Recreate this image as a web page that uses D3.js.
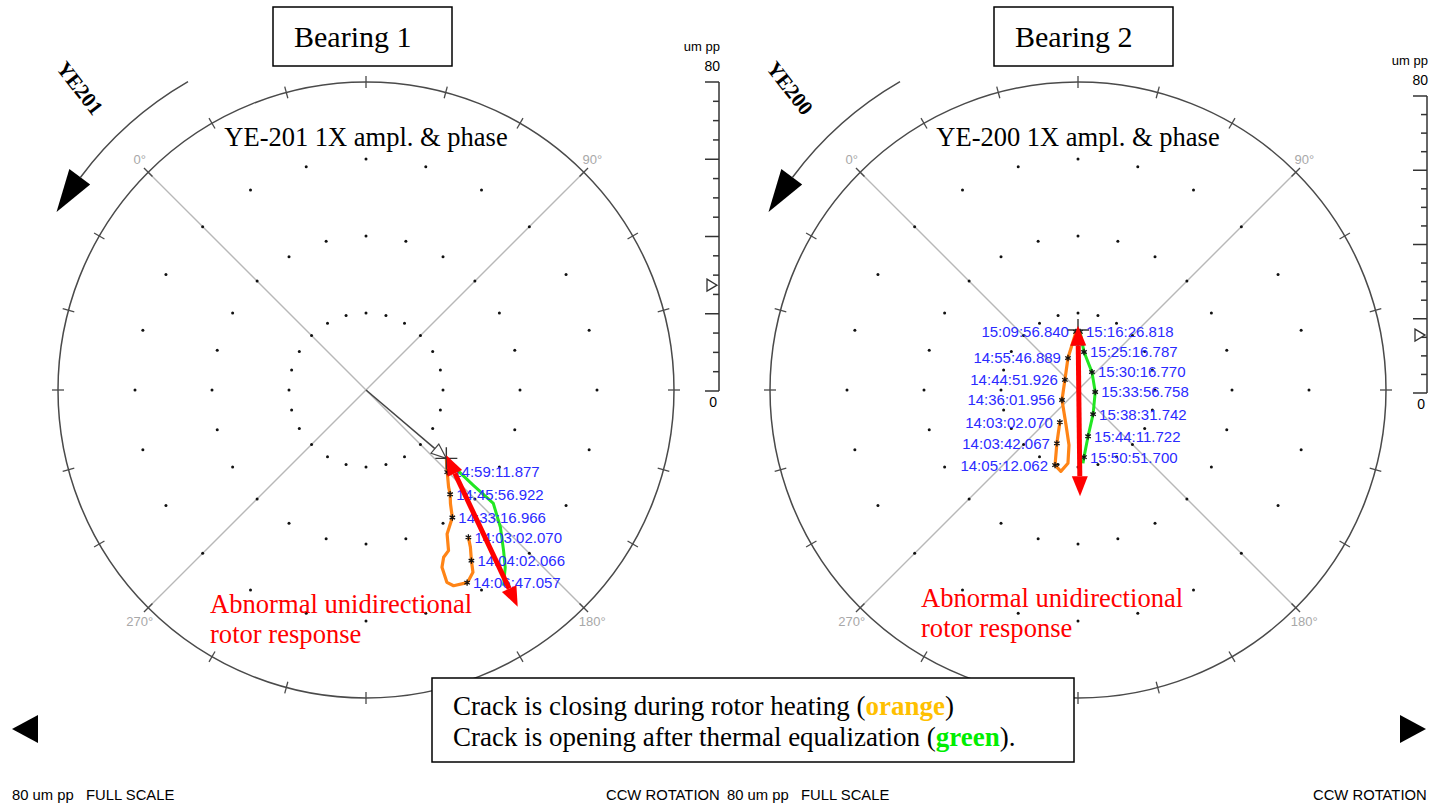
<!DOCTYPE html>
<html>
<head>
<meta charset="utf-8">
<script src="https://cdn.jsdelivr.net/npm/d3@7"></script>
<style>
body{margin:0;background:#fff}
svg{display:block}
</style>
</head>
<body>
<svg id="chart" width="1440" height="804"></svg>
<script>

let fullScale = 80

let ringValues = [20, 40, 60]

let angleLabels = [0, 90, 180, 270]

let barTicks = d3.range(0, 81, 5)

// Bearing 1 / YE-201 : amplitude (um pp) and phase (deg)
let leftOrangeAmp = [46.6, 49.0, 52.1, 54.9, 56.2, 56.5, 55.7, 54.2, 50.1, 47.9, 46.9, 42.9, 40.0, 36.8, 34.8, 33.1, 30.0, 27.4]
let leftOrangePhase = [190.2, 191.4, 193.3, 194.6, 196.7, 197.3, 200.9, 202.2, 201.8, 200.1, 197.8, 195.6, 190.9, 188.4, 186.1, 184.6, 180.3, 175.4]

let leftGreenAmp = [27.4, 30.8, 37.3, 44.3, 49.9, 54.9, 58.6, 62.1]
let leftGreenPhase = [175.4, 176.2, 176.6, 176.7, 180.6, 184.4, 186.9, 189.9]

let leftLabels = ['14:59:11.877', '14:45:56.922', '14:33:16.966', '14:03:02.070', '14:04:02.066', '14:06:47.057']
let leftLabelAmp = [30.0, 34.8, 40.0, 46.6, 52.1, 56.5]
let leftLabelPhase = [180.3, 186.1, 190.9, 190.2, 193.3, 197.3]

let leftCurrent = [27.4, 175.4]
let leftRedArrow = [[26.9, 174.1], [68.7, 190.0]]

// Bearing 2 / YE-200
let rightOrangeAmp = [9.6, 14.9, 20.4, 21.6, 19.2, 14.5, 9.6, 4.9, 4.3, 8.7, 15.1]
let rightOrangePhase = [254.4, 246.6, 242, 236.9, 232.8, 234.3, 243.9, 283, 352.6, 27.6, 43.0]

let rightGreenAmp = [15.1, 15.1, 10.0, 5.9, 4.5, 7.4, 12.3, 17.5, 19.1]
let rightGreenPhase = [43.0, 47.0, 54.0, 82.9, 141.7, 193, 212.7, 219.9, 221.1]

let rightOrangeLabels = ['15:09:56.840', '14:55:46.889', '14:44:51.926', '14:36:01.956', '14:03:02.070', '14:03:42.067', '14:05:12.062']
let rightOrangeLabelAmp = [15.1, 8.7, 4.3, 4.9, 9.6, 14.9, 20.4]
let rightOrangeLabelPhase = [43.0, 27.6, 352.6, 283, 254.4, 246.6, 242]

let rightGreenLabels = ['15:16:26.818', '15:25:16.787', '15:30:16.770', '15:33:56.758', '15:38:31.742', '15:44:11.722', '15:50:51.700']
let rightGreenLabelAmp = [15.1, 10.0, 5.9, 4.5, 7.4, 12.3, 17.5]
let rightGreenLabelPhase = [47.0, 54.0, 82.9, 141.7, 193, 212.7, 219.9]

let rightCurrent = [15.6, 45]
let rightRedArrow = [[16.7, 45], [27.6, 223.9]]

let serif = "'Times New Roman', 'Liberation Serif', serif"
let sans = "Arial, 'Liberation Sans', sans-serif"
let radius = 308

const svg = d3.select('#chart')

const zip = (a, b) => a.map((d, i) => [d, b[i]])

function arrowHead(g, tip, from, len, halfW, fill, stroke){
	let dx = tip[0] - from[0], dy = tip[1] - from[1]
	let l = Math.hypot(dx, dy)
	let ux = dx / l, uy = dy / l
	let bx = tip[0] - ux * len, by = tip[1] - uy * len
	g.append('polygon')
		.attr('points', [tip, [bx - uy * halfW, by + ux * halfW], [bx + uy * halfW, by - ux * halfW]].map(p => p.join(',')).join(' '))
		.attr('fill', fill)
		.attr('stroke', stroke || 'none')
		.attr('stroke-width', 1.2)
	return [bx, by]
}

function drawPolar(p){
	
	let rScale = d3.scaleLinear().domain([0, fullScale]).range([0, radius])
	
	let pt = (amp, ph) => {
		let t = (ph - 45) * Math.PI / 180
		let r = rScale(amp)
		return [p.cx + r * Math.sin(t), p.cy - r * Math.cos(t)]
	}
	let ptPx = (r, ph) => {
		let t = (ph - 45) * Math.PI / 180
		return [p.cx + r * Math.sin(t), p.cy - r * Math.cos(t)]
	}
	
	const g = svg.append('g')
	
	// diagonals through 0-180 and 90-270
	;[0, 90].forEach(ph => {
		let a = pt(fullScale, ph), b = pt(fullScale, ph + 180)
		g.append('line')
			.attr('x1', a[0]).attr('y1', a[1]).attr('x2', b[0]).attr('y2', b[1])
			.attr('stroke', '#b8b8b8').attr('stroke-width', 1.4)
	})
	
	// dotted rings
	ringValues.forEach(v => {
		g.selectAll(null)
			.data(d3.range(0, 360, 15))
			.enter()
			.append('circle')
			.attr('cx', a => pt(v, a)[0])
			.attr('cy', a => pt(v, a)[1])
			.attr('r', 1.5)
			.attr('fill', '#111')
	})
	
	g.append('circle')
		.attr('cx', p.cx).attr('cy', p.cy).attr('r', radius)
		.attr('fill', 'none').attr('stroke', '#4a4a4a').attr('stroke-width', 1.5)
	
	g.selectAll(null)
		.data(d3.range(0, 360, 15))
		.enter()
		.append('line')
		.attr('x1', a => ptPx(radius - 6, a + 45)[0])
		.attr('y1', a => ptPx(radius - 6, a + 45)[1])
		.attr('x2', a => ptPx(radius + 6, a + 45)[0])
		.attr('y2', a => ptPx(radius + 6, a + 45)[1])
		.attr('stroke', '#4a4a4a').attr('stroke-width', 1.3)
	
	g.selectAll(null)
		.data(angleLabels)
		.enter()
		.append('text')
		.attr('x', a => ptPx(radius + 12, a)[0])
		.attr('y', a => ptPx(radius + 18, a)[1] + 5)
		.attr('text-anchor', 'middle')
		.attr('font-family', sans).attr('font-size', 13)
		.attr('fill', '#a8a8a8')
		.text(a => a + '°')
	
	// rotation arc arrow
	let arc = d3.path()
	let a0 = (-30 - 90) * Math.PI / 180, a1 = (-53.3 - 90) * Math.PI / 180
	arc.arc(p.cx, p.cy, 356, a0, a1, true)
	g.append('path').attr('d', arc.toString()).attr('fill', 'none').attr('stroke', '#4a4a4a').attr('stroke-width', 1.5)
	let tipA = -60.1 * Math.PI / 180, baseA = -53.3 * Math.PI / 180
	let tip = [p.cx + 357 * Math.sin(tipA), p.cy - 357 * Math.cos(tipA)]
	let b1 = [p.cx + 344 * Math.sin(baseA), p.cy - 344 * Math.cos(baseA)]
	let b2 = [p.cx + 370 * Math.sin(baseA), p.cy - 370 * Math.cos(baseA)]
	g.append('polygon').attr('points', [tip, b1, b2].map(q => q.join(',')).join(' ')).attr('fill', '#000')
	
	g.append('text')
		.attr('transform', `translate(${p.idX},${p.idY}) rotate(52)`)
		.attr('text-anchor', 'middle').attr('dy', '0.35em')
		.attr('font-family', serif).attr('font-weight', 'bold').attr('font-size', 21)
		.text(p.id)
	
	// titles
	g.append('rect')
		.attr('x', p.boxX).attr('y', 7).attr('width', 179).attr('height', 59)
		.attr('fill', '#fff').attr('stroke', '#000').attr('stroke-width', 1.5)
	g.append('text')
		.attr('x', p.boxX + 21).attr('y', 47)
		.attr('font-family', serif).attr('font-size', 30)
		.text(p.title)
	g.append('text')
		.attr('x', p.cx).attr('y', 146)
		.attr('text-anchor', 'middle')
		.attr('font-family', serif).attr('font-size', 26.5)
		.text(p.subtitle)
	
	// amplitude bar
	let barScale = d3.scaleLinear().domain([0, fullScale]).range([p.barBottom, p.barTop])
	g.append('line')
		.attr('x1', p.barX).attr('x2', p.barX).attr('y1', p.barTop).attr('y2', p.barBottom)
		.attr('stroke', '#333').attr('stroke-width', 1.5)
	g.selectAll(null)
		.data(barTicks)
		.enter()
		.append('line')
		.attr('x1', d => p.barX - (d % 20 === 0 ? 14 : 6))
		.attr('x2', p.barX)
		.attr('y1', d => barScale(d)).attr('y2', d => barScale(d))
		.attr('stroke', '#333').attr('stroke-width', 1.5)
	g.append('text').attr('x', p.barX + 1).attr('y', p.barTop - 31)
		.attr('text-anchor', 'end').attr('font-family', sans).attr('font-size', 13).text('um pp')
	g.append('text').attr('x', p.barX + 1).attr('y', p.barTop - 11)
		.attr('text-anchor', 'end').attr('font-family', sans).attr('font-size', 14).text(fullScale)
	g.append('text').attr('x', p.barX - 2).attr('y', p.barBottom + 16)
		.attr('text-anchor', 'end').attr('font-family', sans).attr('font-size', 14).text(0)
	let ty = barScale(p.current[0])
	g.append('polygon')
		.attr('points', [[p.barX - 12, ty - 6], [p.barX - 2, ty], [p.barX - 12, ty + 6]].map(q => q.join(',')).join(' '))
		.attr('fill', '#fff').attr('stroke', '#333').attr('stroke-width', 1.3)
	
	// trajectories
	let line = d3.line().x(d => pt(d[0], d[1])[0]).y(d => pt(d[0], d[1])[1])
	g.append('path').datum(p.orange).attr('d', line)
		.attr('fill', 'none').attr('stroke', '#ff8416').attr('stroke-width', 3.2)
		.attr('stroke-linejoin', 'round')
	g.append('path').datum(p.green).attr('d', line)
		.attr('fill', 'none').attr('stroke', '#22e622').attr('stroke-width', 3)
		.attr('stroke-linejoin', 'round')
	
	// current vector from centre
	let cur = pt(p.current[0], p.current[1])
	let vb = arrowHead(g, cur, [p.cx, p.cy], 15, 6, '#fff', '#444')
	g.append('line')
		.attr('x1', p.cx).attr('y1', p.cy).attr('x2', vb[0]).attr('y2', vb[1])
		.attr('stroke', '#444').attr('stroke-width', 1.5)
	g.append('path')
		.attr('d', `M${cur[0] - 11},${cur[1]}H${cur[0] + 11}M${cur[0]},${cur[1] - 11}V${cur[1] + 11}`)
		.attr('stroke', '#333').attr('stroke-width', 1.4)
	
	// markers and time labels
	let marker = d3.symbol().type(d3.symbolAsterisk).size(28)
	p.labels.forEach(set => {
		set.points.forEach((d, i) => {
			let q = pt(d[0], d[1])
			g.append('path').attr('d', marker).attr('transform', `translate(${q[0]},${q[1]})`)
				.attr('fill', 'none').attr('stroke', '#111').attr('stroke-width', 1.3)
			g.append('text')
				.attr('x', q[0] + (set.side === 'left' ? -7 : 6)).attr('y', q[1])
				.attr('dy', '0.36em')
				.attr('text-anchor', set.side === 'left' ? 'end' : 'start')
				.attr('font-family', sans).attr('font-size', 15)
				.attr('fill', '#2a2aff')
				.text(set.names[i])
		})
	})
	
	// red double arrow
	let ra = pt(p.red[0][0], p.red[0][1]), rb = pt(p.red[1][0], p.red[1][1])
	let s1 = arrowHead(g, ra, rb, 20, 8, '#ff0000')
	let s2 = arrowHead(g, rb, ra, 20, 8, '#ff0000')
	g.append('line')
		.attr('x1', s1[0]).attr('y1', s1[1]).attr('x2', s2[0]).attr('y2', s2[1])
		.attr('stroke', '#ff0000').attr('stroke-width', 5)
	
	g.append('text')
		.attr('x', p.noteX).attr('y', p.noteY)
		.attr('font-family', serif).attr('font-size', 26.6).attr('fill', '#ff0000')
		.selectAll('tspan')
		.data(['Abnormal unidirectional', 'rotor response'])
		.enter()
		.append('tspan')
		.attr('x', p.noteX)
		.attr('dy', (d, i) => i ? 30 : 0)
		.text(d => d)
}

drawPolar({
	id: 'YE201', idX: 80, idY: 88,
	title: 'Bearing 1', subtitle: 'YE-201 1X ampl. & phase', boxX: 273,
	cx: 366, cy: 390,
	barX: 719, barTop: 82, barBottom: 391,
	orange: zip(leftOrangeAmp, leftOrangePhase),
	green: zip(leftGreenAmp, leftGreenPhase),
	labels: [{side: 'right', names: leftLabels, points: zip(leftLabelAmp, leftLabelPhase)}],
	current: leftCurrent, red: leftRedArrow,
	noteX: 210, noteY: 613
})

drawPolar({
	id: 'YE200', idX: 790, idY: 88,
	title: 'Bearing 2', subtitle: 'YE-200 1X ampl. & phase', boxX: 994,
	cx: 1078, cy: 390,
	barX: 1427, barTop: 96, barBottom: 393,
	orange: zip(rightOrangeAmp, rightOrangePhase),
	green: zip(rightGreenAmp, rightGreenPhase),
	labels: [
		{side: 'left', names: rightOrangeLabels, points: zip(rightOrangeLabelAmp, rightOrangeLabelPhase)},
		{side: 'right', names: rightGreenLabels, points: zip(rightGreenLabelAmp, rightGreenLabelPhase)}
	],
	current: rightCurrent, red: rightRedArrow,
	noteX: 921, noteY: 607
})

// explanation box
svg.append('rect')
	.attr('x', 432).attr('y', 678).attr('width', 642).attr('height', 84)
	.attr('fill', '#fff').attr('stroke', '#000').attr('stroke-width', 1.5)

let lines = [
	['Crack is closing during rotor heating (', 'orange', ')', '#ffc000'],
	['Crack is opening after thermal equalization (', 'green', ').', '#00ee00']
]
lines.forEach((l, i) => {
	let t = svg.append('text')
		.attr('x', 453).attr('y', 715 + i * 31)
		.attr('font-family', serif).attr('font-size', 27)
	t.append('tspan').text(l[0])
	t.append('tspan').attr('font-weight', 'bold').attr('fill', l[3]).text(l[1])
	t.append('tspan').text(l[2])
})

// navigation triangles
svg.append('polygon').attr('points', '12,729 38,715 38,743').attr('fill', '#000')
svg.append('polygon').attr('points', '1426,729 1400,715 1400,743').attr('fill', '#000')

// footer
let footer = [
	[12, '80 um pp   FULL SCALE'],
	[606, 'CCW ROTATION'],
	[727, '80 um pp   FULL SCALE'],
	[1313, 'CCW ROTATION']
]
svg.selectAll('.footer')
	.data(footer)
	.enter()
	.append('text')
	.attr('x', d => d[0]).attr('y', 800)
	.attr('font-family', sans).attr('font-size', 14.8)
	.style('white-space', 'pre')
	.text(d => d[1])

</script>
</body>
</html>
